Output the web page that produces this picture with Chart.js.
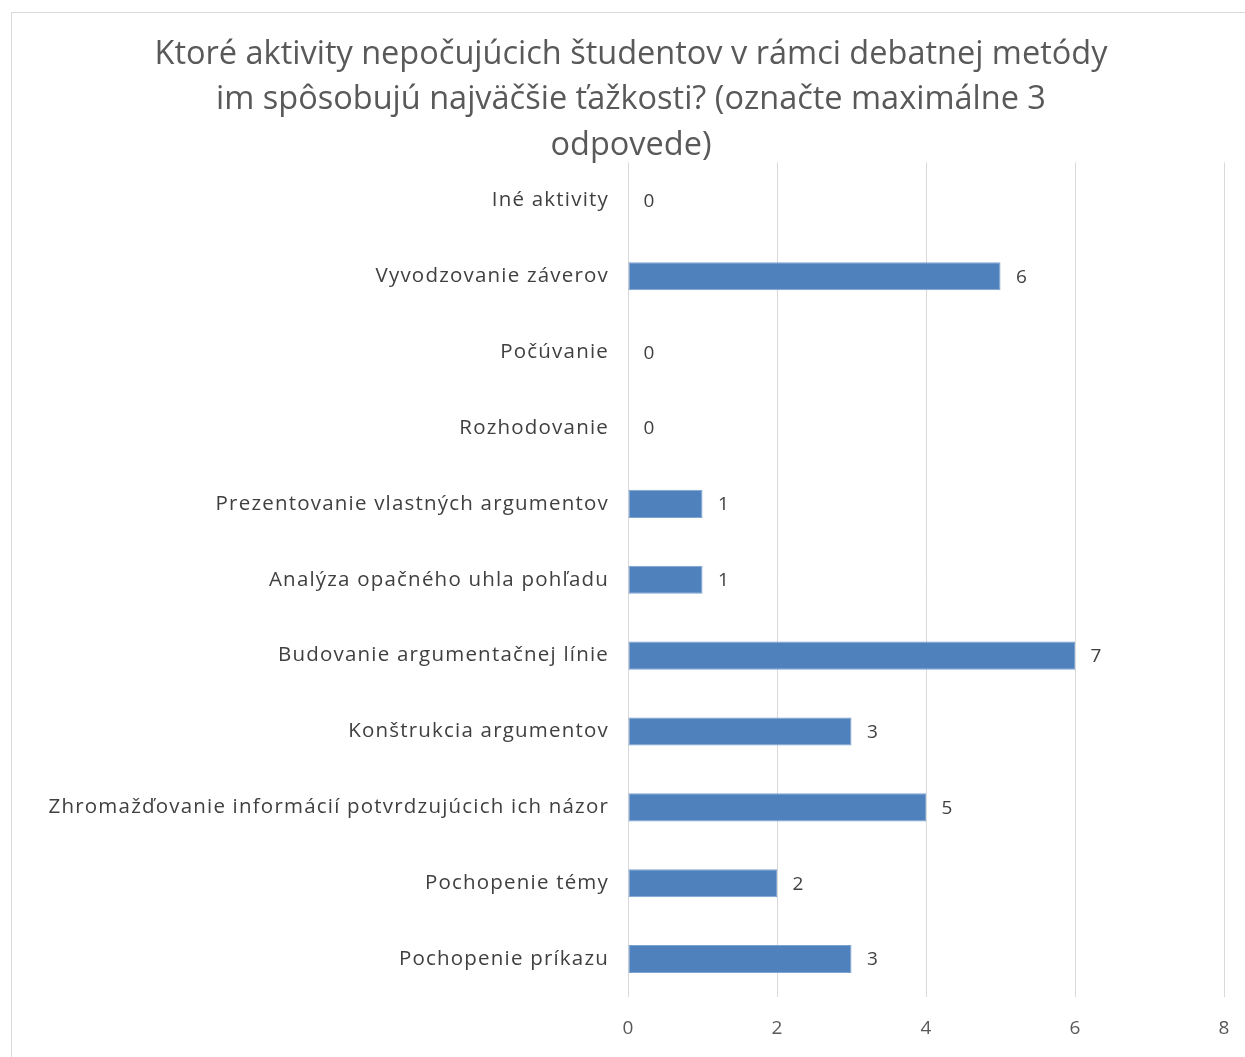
<!DOCTYPE html>
<html>
<head>
<meta charset="utf-8">
<script src="https://cdn.jsdelivr.net/npm/chart.js@4"></script>
<style>
  html, body { margin: 0; background: #fff; overflow: hidden; width: 1245px; height: 1057px; }
  #frame { position: absolute; left: 11px; top: 12px; width: 1260px; height: 1060px; border: 1px solid #d9d9d9; }
  #wrap { position: absolute; left: 0; top: 0; width: 1245px; height: 1057px; }
</style>
</head>
<body>
<div id="frame"></div>
<div id="wrap"><canvas id="barChart"></canvas></div>
<script>
// kategórie (zhora nadol)
const categories = [
    "Iné aktivity",
    "Vyvodzovanie záverov",
    "Počúvanie",
    "Rozhodovanie",
    "Prezentovanie vlastných argumentov",
    "Analýza opačného uhla pohľadu",
    "Budovanie argumentačnej línie",
    "Konštrukcia argumentov",
    "Zhromažďovanie informácií potvrdzujúcich ich názor",
    "Pochopenie témy",
    "Pochopenie príkazu"
];
// dĺžky stĺpcov tak, ako sú nakreslené
const barValues = [0, 5, 0, 0, 1, 1, 6, 3, 4, 2, 3];
// popisky pri stĺpcoch tak, ako sú napísané
const barLabels = ["0", "6", "0", "0", "1", "1", "7", "3", "5", "2", "3"];
const xTicks = [0, 2, 4, 6, 8];

const titleLines = [
    "Ktoré aktivity nepočujúcich študentov v rámci debatnej metódy",
    "im spôsobujú najväčšie ťažkosti? (označte maximálne 3",
    "odpovede)"
];

const FONT = "'Open Sans', 'Noto Sans', sans-serif";

// popisky hodnôt za koncom stĺpca + riedke písmo pre popisky osi Y
const valueLabels = {
    id: "valueLabels",
    afterDatasetsDraw(chart) {
        const ctx = chart.ctx;
        const meta = chart.getDatasetMeta(0);
        ctx.save();
        ctx.font = "19px " + FONT;
        ctx.fillStyle = "#404040";
        ctx.textAlign = "center";
        ctx.textBaseline = "middle";
        meta.data.forEach(function (bar, i) {
            ctx.fillText(barLabels[i], bar.x + 21, bar.y + 1);
        });
        ctx.restore();
        // popisky osi Y sa kreslia až po stĺpcoch (ticks.z = 1)
        ctx.letterSpacing = "1.2px";
    },
    afterDraw(chart) {
        chart.ctx.letterSpacing = "0px";
    }
};

const ctx = document.getElementById("barChart").getContext("2d");
const chart = new Chart(ctx, {
    type: "bar",
    data: {
        labels: categories,
        datasets: [{
            data: barValues,
            backgroundColor: "#4f81bd",
            borderColor: "#7ea3d1",
            borderWidth: 1,
            borderSkipped: false,
            categoryPercentage: 1,
            barPercentage: 0.37
        }]
    },
    options: {
        indexAxis: "y",
        responsive: true,
        maintainAspectRatio: false,
        animation: false,
        layout: { padding: { left: 38, right: 21, top: 0, bottom: 0 } },
        plugins: {
            legend: { display: false },
            tooltip: { enabled: false },
            title: {
                display: true,
                text: titleLines,
                color: "#595959",
                font: { family: FONT, size: 32.5, weight: "normal", lineHeight: 1.4 },
                padding: { top: 31.5, bottom: -5.5 }
            }
        },
        scales: {
            x: {
                min: 0,
                max: 8,
                afterFit(scale) {
                    scale.height = 60;
                    scale.paddingLeft = 0;
                    scale.paddingRight = 0;
                },
                afterBuildTicks(scale) { scale.ticks = xTicks.map(v => ({ value: v })); },
                grid: { color: "#d9d9d9", lineWidth: 1, drawTicks: false },
                border: { display: false },
                ticks: { color: "#595959", padding: 20, font: { family: FONT, size: 19 } }
            },
            y: {
                afterFit(scale) { scale.width = 590; },
                grid: { display: false, drawTicks: false },
                border: { display: false },
                ticks: { color: "#404040", padding: 19, z: 1, font: { family: FONT, size: 20.5 } }
            }
        }
    },
    plugins: [valueLabels]
});
</script>
</body>
</html>
